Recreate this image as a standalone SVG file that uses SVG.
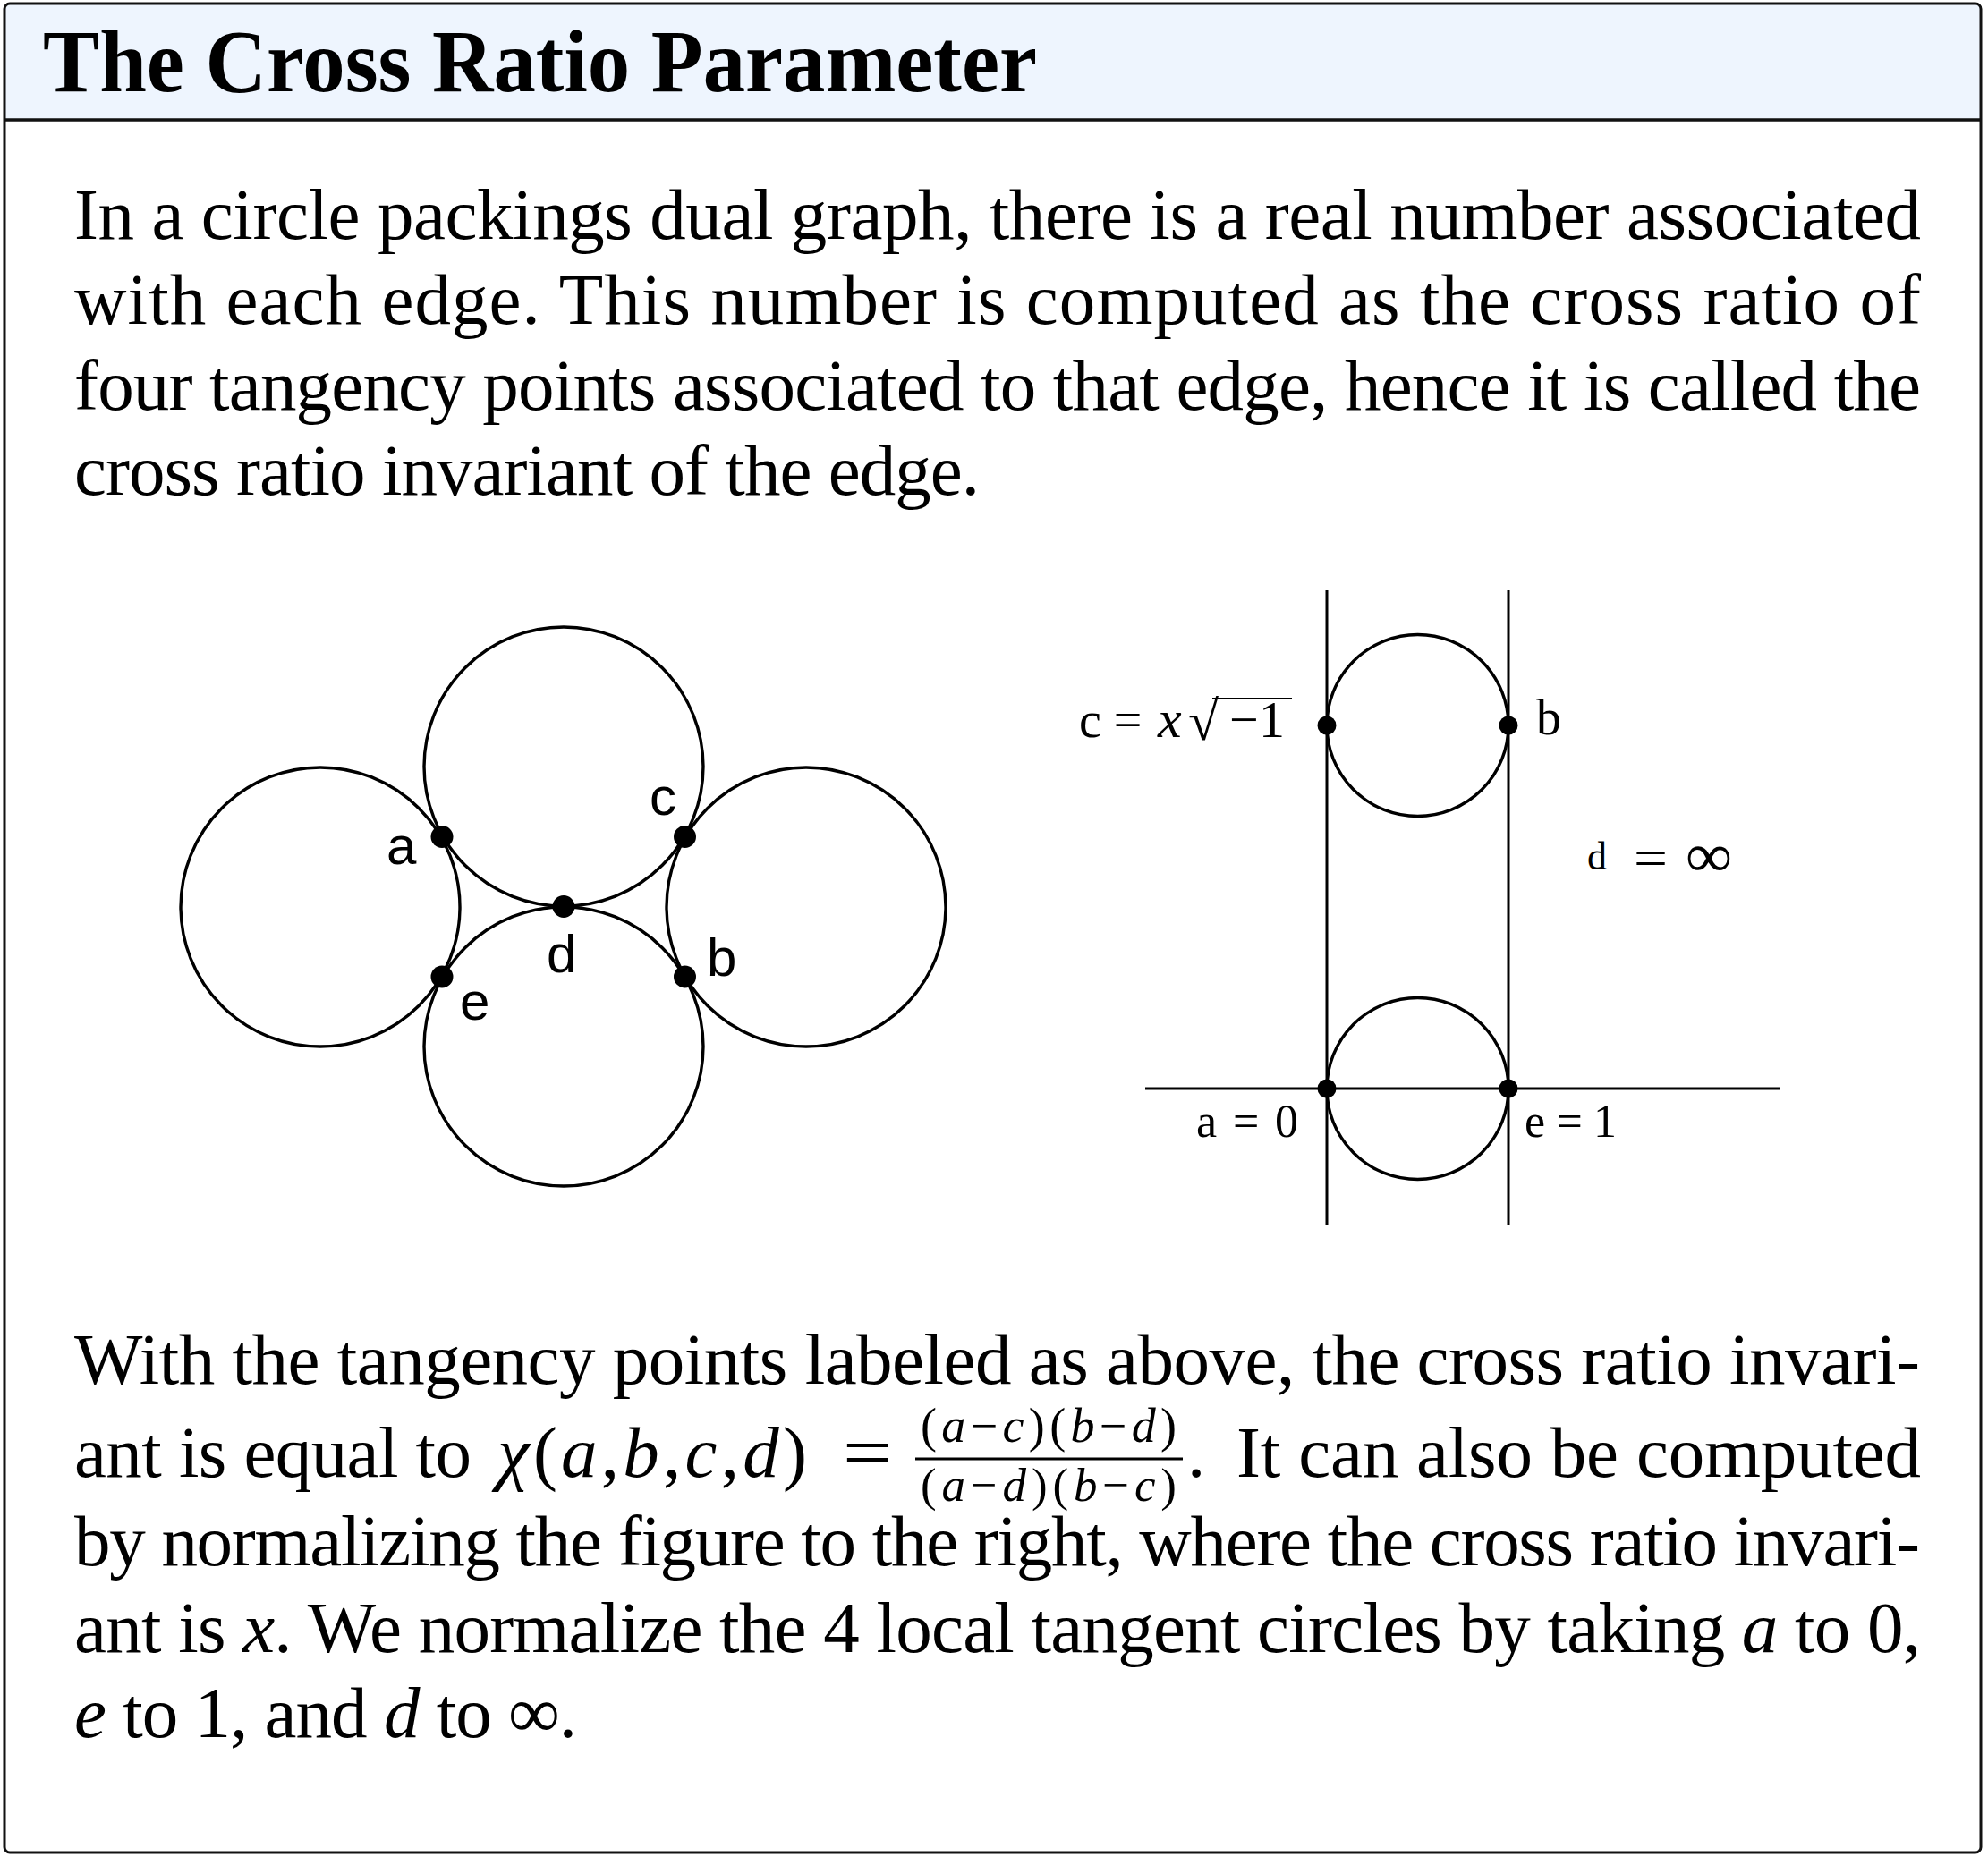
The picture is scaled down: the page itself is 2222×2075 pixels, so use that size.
<svg xmlns="http://www.w3.org/2000/svg" width="2222" height="2075" viewBox="0 0 2222 2075">
<style>
.body{font-family:"Liberation Serif","Times New Roman",serif;font-size:81px;fill:#000}
.it{font-style:italic}
.lbl{font-family:"Liberation Sans",Arial,sans-serif;font-size:60px;fill:#000}
.rl{font-family:"Liberation Serif","Times New Roman",serif;fill:#000}
.c{fill:none;stroke:#000;stroke-width:3.4}
.ln{stroke:#000;stroke-width:3}
.dot{fill:#000}
</style>
<rect x="0" y="0" width="2222" height="2075" fill="#fff"/>
<g id="frame">
<path d="M5,134 V10 Q5,4 11,4 H2208 Q2214,4 2214,10 V134 Z" fill="#EEF5FE"/>
<rect x="5" y="4" width="2209" height="2067" rx="6" fill="none" stroke="#111" stroke-width="3"/>
<line x1="5" y1="134" x2="2214" y2="134" stroke="#111" stroke-width="3.5"/>
<text x="48" y="102" font-family="'Liberation Serif','Times New Roman',serif" font-weight="bold" font-size="99" textLength="1111" lengthAdjust="spacingAndGlyphs">The Cross Ratio Parameter</text>
</g>
<g id="paragraph1" class="body">
<text x="83" y="267" textLength="2064" lengthAdjust="spacing">In a circle packings dual graph, there is a real number associated</text>
<text x="83" y="362" textLength="2064" lengthAdjust="spacing">with each edge.  This number is computed as the cross ratio of</text>
<text x="83" y="458" textLength="2064" lengthAdjust="spacing">four tangency points associated to that edge, hence it is called the</text>
<text x="83" y="553" textLength="1012" lengthAdjust="spacing">cross ratio invariant of the edge.</text>
</g>
<g id="left-diagram">
<g id="circle-top"><circle class="c" cx="630" cy="857" r="156"/></g>
<g id="circle-left"><circle class="c" cx="358" cy="1014" r="156"/></g>
<g id="circle-right"><circle class="c" cx="901" cy="1014" r="156"/></g>
<g id="circle-bottom"><circle class="c" cx="630" cy="1170" r="156"/></g>
<g id="pt-a"><circle class="dot" cx="494" cy="935.5" r="12.5"/><text class="lbl" x="432" y="966">a</text></g>
<g id="pt-c"><circle class="dot" cx="765.5" cy="935.5" r="12.5"/><text class="lbl" x="726" y="911">c</text></g>
<g id="pt-d"><circle class="dot" cx="630" cy="1013.5" r="12.5"/><text class="lbl" x="611" y="1087">d</text></g>
<g id="pt-e"><circle class="dot" cx="494" cy="1092" r="12.5"/><text class="lbl" x="514" y="1140">e</text></g>
<g id="pt-b"><circle class="dot" cx="765.5" cy="1092" r="12.5"/><text class="lbl" x="790" y="1091">b</text></g>
</g>
<g id="right-diagram">
<g id="connectors">
<line class="ln" x1="1483" y1="660" x2="1483" y2="1369"/>
<line class="ln" x1="1686" y1="660" x2="1686" y2="1369"/>
<line class="ln" x1="1280" y1="1217" x2="1990" y2="1217"/>
</g>
<g id="circle-upper"><circle class="c" cx="1584.5" cy="811" r="101.5" stroke-width="2.6"/></g>
<g id="circle-lower"><circle class="c" cx="1584.5" cy="1217" r="101.5" stroke-width="2.6"/></g>
<g id="pt-c2"><circle class="dot" cx="1483" cy="811" r="10.5"/>
<text class="rl" x="1206" y="824" font-size="56">c =</text>
<text class="rl" x="1294" y="824" font-size="60"><tspan font-style="italic">x</tspan></text>
<text class="rl" x="1328" y="827" font-size="62">√</text>
<line x1="1355" y1="781" x2="1444" y2="781" stroke="#000" stroke-width="2"/>
<text class="rl" x="1374" y="824" font-size="58" textLength="62" lengthAdjust="spacing">−1</text>
</g>
<g id="pt-b2"><circle class="dot" cx="1686" cy="811" r="10.5"/><text class="rl" x="1717" y="821" font-size="56">b</text></g>
<g id="pt-a2"><circle class="dot" cx="1483" cy="1217" r="10.5"/><text class="rl" x="1337" y="1271" font-size="52" textLength="114" lengthAdjust="spacing">a = 0</text></g>
<g id="pt-e2"><circle class="dot" cx="1686" cy="1217" r="10.5"/><text class="rl" x="1704" y="1271" font-size="52" textLength="103" lengthAdjust="spacing">e = 1</text></g>
<g id="label-d"><text class="rl" x="1774" y="972" font-size="44">d</text><text class="rl" x="1826" y="979" font-size="60" textLength="38" lengthAdjust="spacingAndGlyphs">=</text><text class="rl" x="1884" y="980" font-size="70" textLength="52" lengthAdjust="spacingAndGlyphs">∞</text></g>
</g>
<g id="paragraph2" class="body">
<text x="83" y="1547" textLength="2063" lengthAdjust="spacing">With the tangency points labeled as above, the cross ratio invari-</text>
<text x="83" y="1651" textLength="444" lengthAdjust="spacing">ant is equal to</text>
<text x="556" y="1651" textLength="346" lengthAdjust="spacing"><tspan class="it">χ</tspan>(<tspan class="it">a</tspan>,<tspan class="it">b</tspan>,<tspan class="it">c</tspan>,<tspan class="it">d</tspan>)</text>
<text x="942" y="1651" textLength="55" lengthAdjust="spacingAndGlyphs">=</text>
<text x="1029" y="1612" font-size="54" textLength="286" lengthAdjust="spacing">(<tspan class="it">a</tspan>−<tspan class="it">c</tspan>)(<tspan class="it">b</tspan>−<tspan class="it">d</tspan>)</text>
<line x1="1023" y1="1631" x2="1322" y2="1631" stroke="#000" stroke-width="3"/>
<text x="1029" y="1678" font-size="53" textLength="286" lengthAdjust="spacing">(<tspan class="it">a</tspan>−<tspan class="it">d</tspan>)(<tspan class="it">b</tspan>−<tspan class="it">c</tspan>)</text>
<text x="1327" y="1651">.</text>
<text x="1382" y="1651" textLength="765" lengthAdjust="spacing">It can also be computed</text>
<text x="83" y="1750" textLength="2063" lengthAdjust="spacing">by normalizing the figure to the right, where the cross ratio invari-</text>
<text x="83" y="1847" textLength="2064" lengthAdjust="spacing">ant is <tspan class="it">x</tspan>. We normalize the 4 local tangent circles by taking <tspan class="it">a</tspan> to 0,</text>
<text x="83" y="1942" textLength="562" lengthAdjust="spacing"><tspan class="it">e</tspan> to 1, and <tspan class="it">d</tspan> to ∞.</text>
</g>
</svg>
